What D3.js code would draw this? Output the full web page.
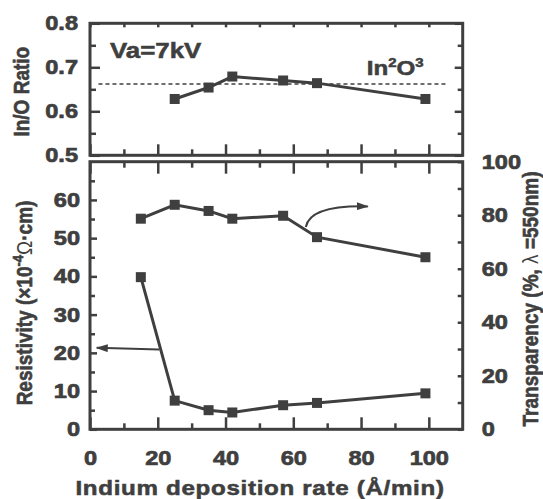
<!DOCTYPE html>
<html>
<head>
<meta charset="utf-8">
<script src="https://cdn.jsdelivr.net/npm/d3@7"></script>
<style>
  body { margin: 0; background: #fff; }
</style>
</head>
<body>
<script>
// Data
const rate = [15, 25, 35, 42, 57, 67, 99];
const resistivity = [39.8, 7.5, 5.0, 4.4, 6.3, 6.9, 9.4];
const transparency = [78.7, 83.9, 81.6, 78.7, 79.8, 71.8, 64.3];
const ratioRate = [25, 35, 42, 57, 67, 99];
const ratio = [0.628, 0.654, 0.679, 0.670, 0.664, 0.628];
const stoichRatio = 0.662;
const stoichSpan = [2.5, 105.3];

// Ticks
const xMajor = [0, 20, 40, 60, 80, 100];
const xMinor = [10, 30, 50, 70, 90];
const ratioMajor = [0.5, 0.6, 0.7, 0.8];
const ratioMinor = [0.55, 0.65, 0.75];
const resMajor = [0, 10, 20, 30, 40, 50, 60];
const resMinor = [5, 15, 25, 35, 45, 55, 65];
const trMajor = [0, 20, 40, 60, 80, 100];
const trMinor = [10, 30, 50, 70, 90];

// Annotation arrows, in data units
const trArrow = [[63.7, 75.6], [64.9, 83.8], [82, 83.3]];   // (rate, transparency)
const resArrow = [[20.4, 20.9], [2.0, 21.3]];               // (rate, resistivity)

const ink = "#3f3f3f";
const font = "'Liberation Sans', Arial, sans-serif";
const sx = 1.15; // glyphs in the figure are a bit wide
const weight = 0.7; // extra outline to thicken the bold type

const width = 543, height = 499;
const marginLeft = 90, plotRight = 462.7;
const topY0 = 23.3, topY1 = 155.3;
const botY0 = 161.7, botY1 = 429.3;

const svg = d3.select("body").append("svg")
  .attr("width", width)
  .attr("height", height);

// Scales
const x = d3.scaleLinear().domain([0, 110]).range([marginLeft, plotRight]);
const yRatio = d3.scaleLinear().domain([0.5, 0.8]).range([topY1, topY0]);
const yRes = d3.scaleLinear().domain([0, 70]).range([botY1, botY0]);
const yTr = d3.scaleLinear().domain([0, 100]).range([botY1, botY0]);

function styleAxis(g, size) {
  g.attr("font-family", font).attr("font-size", size).attr("font-weight", "bold");
  g.select(".domain").remove();
  g.selectAll(".tick line").attr("stroke", ink).attr("stroke-width", 2.5);
  g.selectAll(".tick text")
    .attr("fill", ink).attr("stroke", ink).attr("stroke-width", weight)
    .each(function() {
      const t = d3.select(this);
      const tx = +t.attr("x") || 0, ty = +t.attr("y") || 0;
      t.attr("x", null).attr("y", null)
        .attr("transform", `translate(${tx},${ty}) scale(${sx},1)`);
    });
}

function addAxis(axis, tx, ty, size = 20.5) {
  const g = svg.append("g").attr("transform", `translate(${tx},${ty})`).call(axis);
  styleAxis(g, size);
  return g;
}

// ---- top panel ticks
addAxis(d3.axisLeft(yRatio).tickValues(ratioMajor).tickSize(-10).tickPadding(12).tickFormat(d3.format(".1f")), marginLeft, 0);
addAxis(d3.axisLeft(yRatio).tickValues(ratioMinor).tickSize(-6).tickFormat(""), marginLeft, 0);
addAxis(d3.axisRight(yRatio).tickValues(ratioMajor).tickSize(-8).tickFormat(""), plotRight, 0);
addAxis(d3.axisRight(yRatio).tickValues(ratioMinor).tickSize(-5).tickFormat(""), plotRight, 0);
addAxis(d3.axisTop(x).tickValues(xMajor.concat(xMinor)).tickSize(-4).tickFormat(""), 0, topY0);
addAxis(d3.axisBottom(x).tickValues(xMajor).tickSize(-11).tickFormat(""), 0, topY1);
addAxis(d3.axisBottom(x).tickValues(xMinor).tickSize(-6).tickFormat(""), 0, topY1);

// ---- bottom panel ticks
addAxis(d3.axisTop(x).tickValues(xMajor).tickSize(-12).tickFormat(""), 0, botY0);
addAxis(d3.axisTop(x).tickValues(xMinor).tickSize(-6).tickFormat(""), 0, botY0);
addAxis(d3.axisBottom(x).tickValues(xMajor).tickSize(-12).tickPadding(21), 0, botY1);
addAxis(d3.axisBottom(x).tickValues(xMinor).tickSize(-6).tickFormat(""), 0, botY1);
addAxis(d3.axisLeft(yRes).tickValues(resMajor).tickSize(-7).tickPadding(10), marginLeft, 0);
addAxis(d3.axisLeft(yRes).tickValues(resMinor).tickSize(-5).tickFormat(""), marginLeft, 0);
addAxis(d3.axisRight(yTr).tickValues(trMajor).tickSize(-5).tickPadding(19), plotRight, 0);
addAxis(d3.axisRight(yTr).tickValues(trMinor).tickSize(-5).tickFormat(""), plotRight, 0);

// ---- frames
svg.append("rect")
  .attr("x", x.range()[0]).attr("y", yRatio.range()[1])
  .attr("width", x.range()[1] - x.range()[0])
  .attr("height", yRatio.range()[0] - yRatio.range()[1])
  .attr("fill", "none").attr("stroke", ink).attr("stroke-width", 3);
svg.append("rect")
  .attr("x", x.range()[0]).attr("y", yRes.range()[1])
  .attr("width", x.range()[1] - x.range()[0])
  .attr("height", yRes.range()[0] - yRes.range()[1])
  .attr("fill", "none").attr("stroke", ink).attr("stroke-width", 3);

// ---- stoichiometric In/O line
svg.append("line")
  .attr("x1", x(stoichSpan[0])).attr("x2", x(stoichSpan[1]))
  .attr("y1", yRatio(stoichRatio)).attr("y2", yRatio(stoichRatio))
  .attr("stroke", ink).attr("stroke-width", 1.6).attr("stroke-dasharray", "4,3");

// ---- series
function series(xs, ys, yScale) {
  const pts = xs.map((d, i) => [d, ys[i]]);
  svg.append("path")
    .datum(pts)
    .attr("fill", "none").attr("stroke", ink).attr("stroke-width", 3)
    .attr("d", d3.line().x(d => x(d[0])).y(d => yScale(d[1])));
  svg.append("g").selectAll("rect")
    .data(pts)
    .join("rect")
    .attr("x", d => x(d[0]) - 5).attr("y", d => yScale(d[1]) - 5)
    .attr("width", 10).attr("height", 10)
    .attr("fill", ink);
}
series(ratioRate, ratio, yRatio);
series(rate, transparency, yTr);
series(rate, resistivity, yRes);

// ---- arrows
svg.append("defs").append("marker")
  .attr("id", "head")
  .attr("viewBox", "0 0 12 8")
  .attr("refX", 11).attr("refY", 4)
  .attr("markerWidth", 12).attr("markerHeight", 8)
  .attr("markerUnits", "userSpaceOnUse")
  .attr("orient", "auto")
  .append("path").attr("d", "M0,0L12,4L0,8Z").attr("fill", ink);

const trPath = d3.path();
trPath.moveTo(x(trArrow[0][0]), yTr(trArrow[0][1]));
trPath.quadraticCurveTo(x(trArrow[1][0]), yTr(trArrow[1][1]), x(trArrow[2][0]), yTr(trArrow[2][1]));
svg.append("path")
  .attr("d", trPath.toString())
  .attr("fill", "none").attr("stroke", ink).attr("stroke-width", 2)
  .attr("marker-end", "url(#head)");

svg.append("path")
  .attr("d", d3.line().x(d => x(d[0])).y(d => yRes(d[1]))(resArrow))
  .attr("fill", "none").attr("stroke", ink).attr("stroke-width", 2)
  .attr("marker-end", "url(#head)");

// ---- texts
function text(px, py, size, anchor, rotate) {
  const tr = rotate
    ? `translate(${px},${py}) rotate(-90) scale(1,${sx})`
    : `translate(${px},${py}) scale(${sx},1)`;
  return svg.append("text")
    .attr("transform", tr)
    .attr("text-anchor", anchor)
    .attr("font-family", font).attr("font-weight", "bold")
    .attr("font-size", size).attr("fill", ink)
    .attr("stroke", ink).attr("stroke-width", weight * 0.8);
}

text(110, 58.3, 22.5, "start").text("Va=7kV");

const in2o3 = text(366.7, 75, 21, "start");
in2o3.append("tspan").text("In");
in2o3.append("tspan").attr("font-size", 13).attr("dy", -8).text("2");
in2o3.append("tspan").attr("dy", 8).text("O");
in2o3.append("tspan").attr("font-size", 13).attr("dy", -8).text("3");

text(260, 495, 21, "middle").attr("letter-spacing", 0.6)
  .text("Indium deposition rate (Å/min)");

text(29, 91.7, 19, "middle", true).text("In/O Ratio");

const resLabel = text(32, 303, 19, "middle", true);
resLabel.append("tspan").text("Resistivity (×10");
resLabel.append("tspan").attr("font-size", 13).attr("dy", -8).text("-4");
resLabel.append("tspan").attr("dy", 8).attr("font-weight", "normal").attr("stroke-width", 0).text("Ω");
resLabel.append("tspan").text("·cm)");

const trLabel = text(537.5, 299, 19, "middle", true);
trLabel.append("tspan").text("Transparency (%, ");
trLabel.append("tspan").attr("font-weight", "normal").attr("stroke-width", 0).text("λ");
trLabel.append("tspan").text(" =550nm)");
</script>
</body>
</html>
